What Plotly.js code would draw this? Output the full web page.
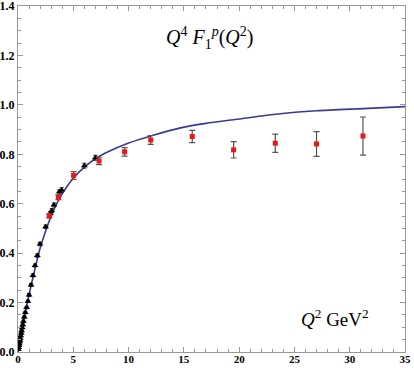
<!DOCTYPE html>
<html>
<head>
<meta charset="utf-8">
<script src="https://cdn.plot.ly/plotly-3.0.1.min.js"></script>
<style>
  body { margin: 0; background: #fff; }
  #chart { width: 414px; height: 368px; }
</style>
</head>
<body>
<div id="chart"></div>
<script>
// model curve
let curveQ2 = [0, 0.25, 0.5, 0.75, 1, 1.5, 2, 2.5, 3, 3.5, 4, 5, 6, 7, 8, 10, 12, 14.6, 17, 19.5, 23.3, 27, 31.2, 35]
let curveVal = [0, 0.065, 0.125, 0.18, 0.232, 0.33, 0.42, 0.49, 0.55, 0.6, 0.64, 0.703, 0.748, 0.782, 0.807, 0.846, 0.874, 0.906, 0.925, 0.94, 0.962, 0.976, 0.985, 0.993]

// low Q2 data (black triangles)
let lowQ2 = [0.03, 0.06, 0.09, 0.12, 0.15, 0.18, 0.21, 0.25, 0.29, 0.33, 0.38, 0.43, 0.49, 0.57, 0.66, 0.78, 0.9, 1.0, 1.18, 1.35, 1.54, 1.75, 1.99, 2.5, 2.92, 3.05, 3.25, 3.74, 3.95, 6.0, 7.0]
let lowVal = [0.01, 0.018, 0.026, 0.033, 0.041, 0.048, 0.056, 0.066, 0.076, 0.086, 0.098, 0.11, 0.124, 0.142, 0.16, 0.18, 0.205, 0.231, 0.271, 0.31, 0.35, 0.39, 0.437, 0.507, 0.561, 0.572, 0.595, 0.648, 0.656, 0.754, 0.786]
let lowErr = [0.004, 0.004, 0.004, 0.004, 0.004, 0.004, 0.004, 0.004, 0.004, 0.004, 0.004, 0.004, 0.005, 0.005, 0.005, 0.005, 0.005, 0.006, 0.006, 0.006, 0.006, 0.007, 0.007, 0.007, 0.008, 0.008, 0.008, 0.008, 0.009, 0.01, 0.01]

// high Q2 data (red squares)
let highQ2 = [2.83, 3.65, 5.03, 7.33, 9.64, 12.0, 15.76, 19.5, 23.27, 27.0, 31.2]
let highVal = [0.551, 0.626, 0.714, 0.773, 0.81, 0.858, 0.872, 0.818, 0.845, 0.842, 0.874]
let highErr = [0.008, 0.01, 0.016, 0.015, 0.017, 0.018, 0.025, 0.033, 0.037, 0.05, 0.077]

let serif = 'Liberation Serif'

let traces = [
    {
        x: curveQ2, y: curveVal,
        mode: 'lines', type: 'scatter',
        line: { color: 'rgb(58,58,150)', width: 1.6, shape: 'spline', smoothing: 0.8 },
        hoverinfo: 'skip'
    },
    {
        x: lowQ2, y: lowVal,
        mode: 'markers', type: 'scatter',
        marker: { symbol: 'triangle-up', size: 6, color: '#000' },
        error_y: { type: 'data', array: lowErr, color: '#222', thickness: 1, width: 2 }
    },
    {
        x: highQ2, y: highVal,
        mode: 'markers', type: 'scatter',
        marker: { symbol: 'square', size: 5, color: 'rgb(240,20,20)' },
        error_y: { type: 'data', array: highErr, color: '#555', thickness: 1.2, width: 3 }
    }
]

let axisStyle = {
    showgrid: false, zeroline: false,
    showline: true, linecolor: '#999', linewidth: 1,
    mirror: 'ticks',
    ticks: 'inside', ticklen: 5, tickcolor: '#999', tickwidth: 1,
    ticklabeloverflow: 'allow',
    tickfont: { family: serif, size: 12, color: '#000', weight: 'bold' }
}

let layout = {
    width: 414, height: 368,
    margin: { l: 18, r: 9, t: 6, b: 16 },
    showlegend: false,
    paper_bgcolor: '#fff', plot_bgcolor: '#fff',
    xaxis: Object.assign({}, axisStyle, {
        range: [0, 35.001], dtick: 5, tick0: 0, ticklabelstandoff: -3,
        tickfont: { family: serif, size: 11, color: '#000', weight: 'bold' },
        minor: { dtick: 1, ticks: 'inside', ticklen: 3, tickcolor: '#999' }
    }),
    yaxis: Object.assign({}, axisStyle, {
        range: [0, 1.4001], dtick: 0.2, tick0: 0, tickformat: '.1f',
        minor: { dtick: 0.05, ticks: 'inside', ticklen: 3, tickcolor: '#999' }
    }),
    annotations: [
        {
            x: 0.495, y: 0.907, xref: 'paper', yref: 'paper', xanchor: 'center', yanchor: 'middle',
            text: '<i>Q</i><sup>4</sup> <i>F</i><sub>1</sub><sup><i>p</i></sup>(<i>Q</i><sup>2</sup>)',
            showarrow: false, font: { family: serif, size: 20, color: '#000' }
        },
        {
            x: 0.819, y: 0.098, xref: 'paper', yref: 'paper', xanchor: 'center', yanchor: 'middle',
            text: '<i>Q</i><sup>2</sup> GeV<sup>2</sup>',
            showarrow: false, font: { family: serif, size: 19, color: '#000' }
        }
    ]
}

Plotly.newPlot('chart', traces, layout, { displayModeBar: false, staticPlot: true })
</script>
</body>
</html>
